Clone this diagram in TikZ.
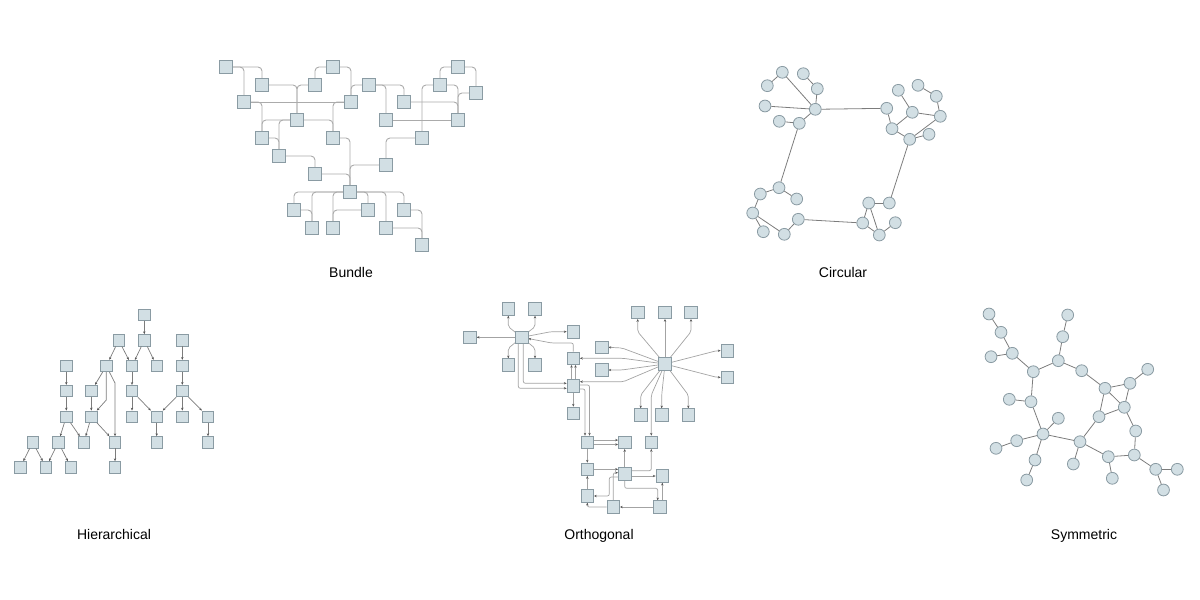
\documentclass[tikz,border=0pt]{standalone}
\usepackage{fontspec}
\setmainfont{Liberation Sans}
\usetikzlibrary{arrows.meta,backgrounds}
\definecolor{boxfill}{HTML}{D2DFE4}
\definecolor{boxdraw}{HTML}{8A9BA3}
\definecolor{bundleline}{HTML}{ABABAB}
\definecolor{edgegray}{HTML}{7C7C7C}
\definecolor{orthline}{HTML}{A3A3A3}
\definecolor{tipgray}{HTML}{555555}
\begin{document}
\begin{tikzpicture}[x=1pt,y=-1pt,
  bbox/.style={shape=rectangle,draw=boxdraw,fill=boxfill,line width=0.8pt,minimum size=13.5pt,inner sep=0pt},
  hbox/.style={bbox,minimum size=11.5pt},
  obox/.style={bbox,minimum size=12.5pt},
  cnode/.style={circle,draw=boxdraw,fill=boxfill,line width=0.8pt,minimum size=11.8pt,inner sep=0pt},
  bedge/.style={draw=bundleline,line width=0.9pt,rounded corners=4pt},
  cedge/.style={draw=edgegray,line width=0.8pt},
  harr/.style={draw=edgegray,line width=0.7pt,-{Stealth[length=2.8pt,width=2.4pt,color=tipgray]}},
  oarr/.style={draw=orthline,line width=0.7pt,rounded corners=2pt,-{Stealth[length=2.8pt,width=2.4pt,color=tipgray]}},
  lbl/.style={font=\fontsize{14}{16}\selectfont,text=black,anchor=base,inner sep=0pt}]
\useasboundingbox (0,0) rectangle (1200,600);

% ---------------- Bundle ----------------
\foreach \n/\x/\y in {bA/226/67,bB/262/85,bC/315/85,bD/333/67,bE/244/102,bF/351/102,bG/297/120,bH/262/138,bI/333/138,bJ/279/156,bK/315/174,bL/350/192,bM/294/210,bN/312/228,bO/333/228,bP/369/85,bQ/404/102,bR/386/120,bS/422/138,bT/386/165,bU/458/67,bV/440/85,bW/476/93,bX/458/120,bY/368/210,bZ/404/210,bAA/386/228,bAB/422/245}
  \node[bbox] (\n) at (\x,\y) {};
\begin{scope}[on background layer]
\foreach \a/\b in {bA.east/bB.north,bA.east/bE.north,bB.east/bG.north,bC.west/bG.north,bD.west/bC.north,bD.east/bF.north,bP.west/bF.north,bE.east/bH.north,bF.west/bI.north,bG.west/bH.north,bG.west/bJ.north,bG.east/bI.north,bH.east/bJ.north,bJ.east/bK.north,bK.east/bL.north,bI.east/bL.north,bT.west/bL.north,bS.west/bT.north,bQ.east/bX.north,bV.east/bX.north,bW.west/bX.north,bU.west/bV.north,bU.east/bW.north,bP.east/bQ.north,bP.east/bR.north,bL.east/bZ.north,bL.east/bAA.north,bL.east/bY.north,bL.west/bM.north,bL.west/bN.north,bL.west/bO.north,bM.east/bN.north,bZ.east/bAB.north,bAA.east/bAB.north}
  \draw[bedge] (\a) -| (\b);
\draw[bedge] (bE.east) -- (bF.west);
\draw[bedge] (bR.east) -- (bX.west);
\draw[bedge] (bS.north) |- (bV.west);
\draw[bedge] (bO.north) |- (bY.west);
\end{scope}
\node[lbl] (labB) at (351,277) {Bundle};

% ---------------- Circular ----------------
\foreach \n/\x/\y in {c1/782.3/72.3,c2/803.3/73.7,c3/767.3/85.7,c4/817.3/88.7,c5/765/106,c6/815.3/109.3,c7/779.3/121.3,c8/799.3/123.3,c9/779/187.7,c10/760.3/194,c11/796.7/199,c12/752.7/213,c13/798.3/219.3,c14/763.3/231.7,c15/784.3/234.3,c16/868.7/203,c17/889.3/203,c18/862.7/223,c19/895.3/222.7,c20/879.3/235,c21/886.7/108.3,c22/898.3/90.3,c23/918/85.3,c24/936.3/96.3,c25/912.3/112.3,c26/940.3/116.3,c27/892/128.7,c28/929/134.3,c29/909.7/139.3}
  \node[cnode] (\n) at (\x,\y) {};
\foreach \a/\b in {c3/c1,c1/c6,c2/c4,c4/c6,c5/c6,c7/c8,c8/c6,c6/c21,c8/c9,c9/c10,c9/c11,c10/c12,c12/c14,c12/c15,c15/c13,c13/c18,c18/c16,c16/c17,c16/c20,c18/c20,c20/c19,c17/c29,c21/c27,c27/c25,c27/c29,c22/c25,c25/c26,c23/c24,c24/c26,c29/c26,c29/c28}
  \draw[cedge] (\a) -- (\b);
\node[lbl] (labC) at (843,277) {Circular};

% ---------------- Hierarchical ----------------
\foreach \n/\x/\y in {h1/144.3/314.7,h2/118.7/340.3,h3/144.3/340.3,h4/182.3/340.3,h5/66.3/366,h6/106.3/366,h7/132/366,h8/156.7/366,h9/182.3/366,h10/66.3/391,h11/91.3/391,h12/132/391,h13/182.3/391,h14/66.3/416.7,h15/91.3/416.7,h16/132/416.7,h17/156.7/416.7,h18/182.3/416.7,h19/208/416.7,h20/32.7/442.3,h21/58.3/442.3,h22/84/442.3,h23/115/442.3,h24/156.7/442.3,h25/208/442.3,h26/20.3/467.3,h27/46/467.3,h28/71/467.3,h29/115/467.3}
  \node[hbox] (\n) at (\x,\y) {};
\foreach \a/\b in {h1/h3,h2/h6,h2/h7,h3/h7,h3/h8,h4/h9,h5/h10,h10/h14,h6/h11,h11/h15,h7/h12,h9/h13,h12/h16,h12/h17,h13/h17,h13/h18,h13/h19,h14/h21,h14/h22,h15/h22,h15/h23,h17/h24,h19/h25,h20/h26,h20/h27,h21/h27,h21/h28,h23/h29}
  \draw[harr] (\a) -- (\b);
\draw[harr] (h6.south) -- (106.3,400) -- (h15);
\draw[harr] (h6) -- (115,383) -- (h23.north);
\node[lbl] (labH) at (114,539) {Hierarchical};

% ---------------- Orthogonal ----------------
\foreach \n/\x/\y in {o1/508.3/309,o2/535/309,o3/470/337.3,o4/521.7/337.3,o5/573.3/331.7,o6/508.3/365,o7/535/365,o8/573.3/358.3,o9/573.3/386,o10/573.3/413.3,o11/637.7/312.3,o12/665/312.3,o13/691/312.3,o14/601.7/347.3,o15/601.7/370,o16/665/364,o17/727.3/350.7,o18/727.3/377.3,o19/640.7/415,o20/661.7/415,o21/688.3/415,o22/587.3/442.3,o23/624.7/442.3,o24/651.3/442.3,o25/587.3/469.3,o26/624.7/473.7,o27/662.3/476,o28/587.3/496,o29/613.3/507,o30/660/507}
  \node[obox] (\n) at (\x,\y) {};
\begin{scope}[on background layer]
% hub 1
\draw[oarr] (o4) -- (508.3,326.7) -- (o1.south);
\draw[oarr] (o4) -- (535,326.7) -- (o2.south);
\draw[oarr] (o4) -- (o3);
\draw[oarr] (o4) -- (508.3,348.3) -- (o6.north);
\draw[oarr] (o4) -- (535,348.3) -- (o7.north);
\draw[oarr] (o4) -- (551,331.7) -- (o5.west);
\draw[oarr] (o8.north) |- (551.7,343) -- (o4);
\draw[oarr] ([xshift=-3.4pt]o4.south) |- ([yshift=-2.3pt]o9.west);
\draw[oarr] ([xshift=1.6pt]o4.south) |- ([yshift=2.7pt]o9.west);
\draw[oarr] ([xshift=-1.8pt]o9.north) -- ([xshift=-1.8pt]o8.south);
\draw[oarr] ([xshift=2.2pt]o9.north) -- ([xshift=2.2pt]o8.south);
\draw[oarr] (o9) -- (o10);
% hub 2
\draw[oarr] (o16) -- (637.7,331.7) -- (o11.south);
\draw[oarr] (o16) -- (o12);
\draw[oarr] (o16) -- (691,331.7) -- (o13.south);
\draw[oarr] (o16) -- (622,348) -- (o14.east);
\draw[oarr] (o16) -- (623,358.3) -- (o8.east);
\draw[oarr] (o16) -- (621.7,370) -- (o15.east);
\draw[oarr] (o16) -- (623.3,381.7) -- ([yshift=4.3pt]o9.east);
\draw[oarr] (o16) -- (716.7,350.7) -- (o17.west);
\draw[oarr] (o16) -- (716.7,377.3) -- (o18.west);
\draw[oarr] (o16) -- (640.7,395) -- (o19.north);
\draw[oarr] (o16) -- (661.7,395) -- (o20.north);
\draw[oarr] (o16) -- (688.3,395) -- (o21.north);
\draw[oarr] (o16) -- (651.3,395) -- (o24.north);
% lower block
\draw[oarr] ([yshift=1pt]o9.east) -| ([xshift=2.2pt]o22.north);
\draw[oarr] ([yshift=-3pt]o9.east) -| ([xshift=-2.3pt]o22.north);
\draw[oarr] ([yshift=2.2pt]o22.east) -- ([yshift=2.2pt]o23.west);
\draw[oarr] ([yshift=-2.2pt]o22.east) -- ([yshift=-2.2pt]o23.west);
\draw[oarr] (o22) -- (o25);
\draw[oarr] (o25.east) -- (o25.east -| o26.west);
\draw[oarr] (o28) -- (o25);
\draw[oarr] ([yshift=-3.3pt]o26.west) -| (609.3,496) -- (o28.east);
\draw[oarr] (o29.north) |- ([yshift=1pt]o26.west);
\draw[oarr] (o29.west) -| (o28.south);
\draw[oarr] (o30.west) -- (o29.east);
\draw[oarr] (o27.south |- o30.north) -- (o27.south);
\draw[oarr] (o26.south) -- (624.7,488.3) -| ([xshift=-2.3pt]o30.north);
\draw[oarr] ([yshift=-2.3pt]o26.east) -- ([yshift=-2.3pt]o26.east -| o27.west);
\draw[oarr] ([yshift=3pt]o26.east) -| (o24.south);
\draw[oarr] (o26.north) -- (o23.south);
\end{scope}
\node[lbl] (labO) at (599,539) {Orthogonal};

% ---------------- Symmetric ----------------
\foreach \n/\x/\y in {s1/989/314,s2/1067.7/315,s3/1001/332.3,s4/1062.7/336.7,s5/1012.3/353.3,s6/991/356.7,s7/1058.3/360.7,s8/1033.3/371.7,s9/1081.7/370.7,s10/1147.7/369.3,s11/1130/383.3,s12/1105/388.3,s13/1009.3/399.3,s14/1031/401.7,s15/1124.3/407.3,s16/1058.3/418.3,s17/1099/416.7,s18/1043/434,s19/1135.7/431,s20/1016.7/440.7,s21/1080/441.7,s22/996/448.3,s23/1035/460,s24/1108.3/456.7,s25/1134.3/455,s26/1073.3/464,s27/1026.7/480,s28/1112.3/478.3,s29/1155.7/469.3,s30/1177.3/469.3,s31/1163.5/490}
  \node[cnode] (\n) at (\x,\y) {};
\foreach \a/\b in {s1/s3,s3/s5,s6/s5,s5/s8,s2/s4,s4/s7,s8/s7,s7/s9,s9/s12,s12/s11,s11/s10,s12/s15,s11/s15,s12/s17,s15/s17,s15/s19,s19/s25,s25/s24,s25/s29,s29/s30,s29/s31,s24/s21,s24/s28,s17/s21,s21/s26,s21/s18,s8/s14,s14/s18,s13/s14,s16/s18,s18/s20,s20/s22,s18/s23,s23/s27}
  \draw[cedge] (\a) -- (\b);
\node[lbl] (labS) at (1084,539) {Symmetric};
\end{tikzpicture}
\end{document}
